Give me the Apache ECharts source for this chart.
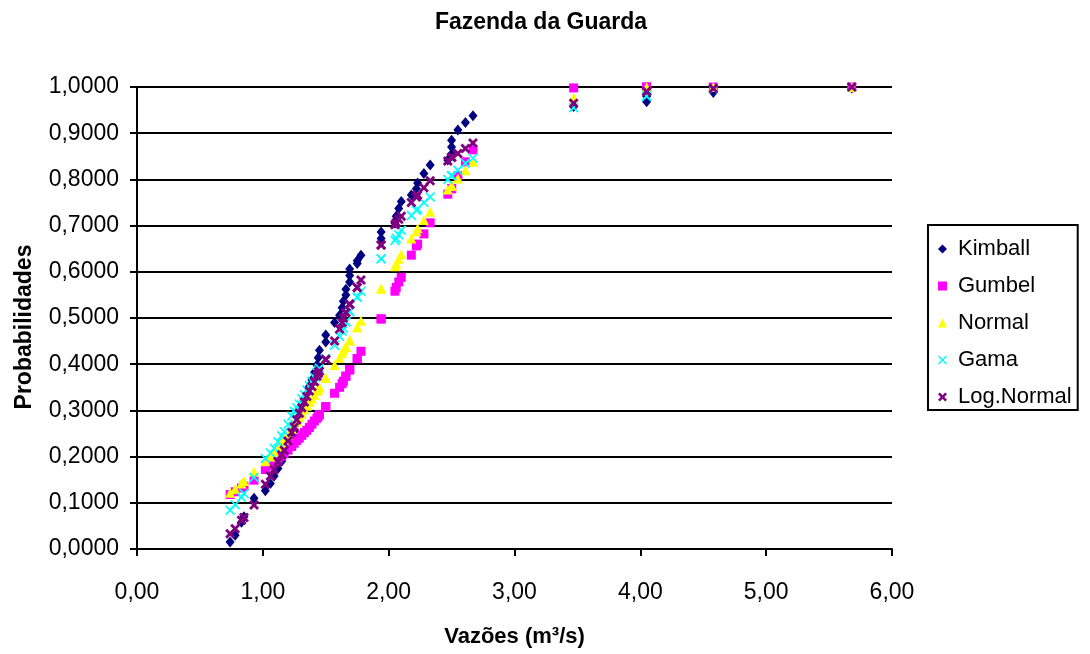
<!DOCTYPE html>
<html>
<head>
<meta charset="utf-8">
<script src="https://cdn.jsdelivr.net/npm/echarts@6.0.0/dist/echarts.min.js"></script>
<style>
html,body{margin:0;padding:0;background:#fff;}
#chart{width:1090px;height:654px;}
</style>
</head>
<body>
<div id="chart"></div>
<script>
// Observed flows (m³/s), sorted
const flows = [0.74,0.78,0.83,0.85,0.93,1.02,1.06,1.09,1.12,1.15,1.17,1.20,1.23,1.25,1.27,1.29,1.31,1.33,1.35,1.37,1.39,1.41,1.43,1.44,1.45,1.50,1.50,1.57,1.61,1.63,1.64,1.66,1.66,1.69,1.69,1.69,1.75,1.75,1.78,1.94,1.94,2.05,2.06,2.08,2.10,2.18,2.22,2.23,2.28,2.33,2.47,2.50,2.50,2.50,2.55,2.61,2.67,3.47,4.05,4.05,4.58,5.68];

const kimball = [0.015,0.030,0.058,0.070,0.110,0.126,0.142,0.158,0.174,0.190,0.206,0.222,0.240,0.256,0.272,0.288,0.304,0.320,0.336,0.352,0.366,0.382,0.398,0.414,0.430,0.448,0.463,0.490,0.506,0.522,0.536,0.550,0.562,0.578,0.592,0.606,0.618,0.624,0.636,0.672,0.686,0.705,0.720,0.737,0.752,0.766,0.780,0.792,0.813,0.831,0.842,0.855,0.870,0.885,0.907,0.923,0.938,0.958,0.968,0.980,0.988,0.998];

const gumbel = [0.118,0.124,0.132,0.136,0.149,0.172,0.180,0.188,0.195,0.201,0.206,0.214,0.222,0.229,0.235,0.240,0.246,0.252,0.257,0.263,0.270,0.277,0.283,0.287,0.291,0.308,0.308,0.337,0.350,0.358,0.363,0.374,0.374,0.388,0.388,0.388,0.412,0.412,0.428,0.498,0.498,0.558,0.566,0.578,0.588,0.636,0.656,0.660,0.682,0.706,0.768,0.780,0.780,0.780,0.808,0.838,0.864,0.998,1.000,1.000,1.000,1.000];

const normal = [0.122,0.130,0.142,0.147,0.167,0.190,0.200,0.210,0.220,0.230,0.237,0.248,0.260,0.268,0.276,0.285,0.293,0.302,0.310,0.318,0.326,0.334,0.342,0.346,0.350,0.370,0.370,0.398,0.414,0.424,0.430,0.438,0.438,0.452,0.452,0.452,0.480,0.480,0.494,0.564,0.564,0.612,0.618,0.628,0.638,0.672,0.688,0.694,0.712,0.730,0.778,0.786,0.786,0.786,0.802,0.820,0.838,0.977,0.999,0.999,1.000,1.000];

const gama = [0.084,0.096,0.112,0.120,0.155,0.196,0.208,0.218,0.232,0.245,0.254,0.270,0.288,0.298,0.306,0.314,0.325,0.334,0.344,0.354,0.363,0.372,0.382,0.387,0.391,0.412,0.412,0.441,0.460,0.472,0.478,0.492,0.492,0.514,0.514,0.514,0.545,0.545,0.558,0.628,0.628,0.668,0.672,0.680,0.690,0.722,0.733,0.736,0.750,0.762,0.800,0.808,0.808,0.808,0.820,0.835,0.846,0.955,0.980,0.980,0.995,1.000];

const logNormal = [0.033,0.044,0.062,0.068,0.095,0.140,0.158,0.172,0.189,0.204,0.214,0.234,0.252,0.264,0.280,0.294,0.306,0.318,0.330,0.342,0.352,0.362,0.374,0.380,0.385,0.410,0.410,0.450,0.476,0.490,0.500,0.512,0.512,0.530,0.530,0.530,0.566,0.566,0.582,0.658,0.658,0.702,0.706,0.714,0.720,0.750,0.762,0.766,0.782,0.797,0.840,0.848,0.848,0.848,0.856,0.867,0.879,0.965,0.990,0.990,0.997,1.000];

const seriesNames = ['Kimball','Gumbel','Normal','Gama','Log.Normal'];
const seriesValues = [kimball, gumbel, normal, gama, logNormal];
const seriesColors = ['#000080','#FF00FF','#FFFF00','#00FFFF','#800080'];

const crossPath = 'path://M0,1.2 L1.2,0 L5,3.8 L8.8,0 L10,1.2 L6.2,5 L10,8.8 L8.8,10 L5,6.2 L1.2,10 L0,8.8 L3.8,5 Z';
const boldCrossPath = 'path://M0,2 L2,0 L5,3 L8,0 L10,2 L7,5 L10,8 L8,10 L5,7 L2,10 L0,8 L3,5 Z';
const seriesSymbols = ['diamond','rect','triangle',crossPath,boldCrossPath];
const seriesSizes = [[9,11],9,[10,10],10,10];

const FONT = '"Liberation Sans", Arial, sans-serif';

const chart = echarts.init(document.getElementById('chart'), null, {renderer:'canvas'});

const series = seriesNames.map((name, k) => ({
  name: name,
  type: 'scatter',
  symbol: seriesSymbols[k],
  symbolSize: seriesSizes[k],
  itemStyle: { color: seriesColors[k], opacity: 1 },
  emphasis: { disabled: true },
  clip: false,
  data: flows.map((x, i) => [x, seriesValues[k][i]])
}));

chart.setOption({
  animation: false,
  backgroundColor: '#fff',
  title: {
    text: 'Fazenda da Guarda',
    left: 536,
    textAlign: 'center',
    top: 6,
    textStyle: { fontFamily: FONT, fontWeight: 'bold', fontSize: 23, color: '#000' }
  },
  grid: { left: 137, top: 87, width: 755, height: 462, containLabel: false },
  legend: {
    orient: 'vertical',
    left: 928,
    top: 225,
    padding: [13, 6, 2, 10],
    itemGap: 15,
    itemWidth: 9,
    itemHeight: 9,
    borderColor: '#000',
    borderWidth: 2,
    data: seriesNames.map((n, k) => ({ name: n, icon: seriesSymbols[k] })),
    textStyle: { fontFamily: FONT, fontSize: 22, color: '#000', padding: [0,0,0,6] }
  },
  xAxis: {
    type: 'value',
    min: 0, max: 6, interval: 1,
    name: 'Vazões (m³/s)',
    nameLocation: 'middle',
    nameGap: 77,
    nameTextStyle: { fontFamily: FONT, fontWeight: 'bold', fontSize: 22, color: '#000' },
    axisLine: { show: true, onZero: false, lineStyle: { color: '#000', width: 2 } },
    axisTick: { show: true, length: 7, lineStyle: { color: '#000', width: 2 } },
    axisLabel: { fontFamily: FONT, fontSize: 23, color: '#000', margin: 32,
      formatter: v => v.toFixed(2).replace('.', ',') },
    splitLine: { show: false }
  },
  yAxis: {
    type: 'value',
    min: 0, max: 1, interval: 0.1,
    name: 'Probabilidades',
    nameLocation: 'middle',
    nameGap: 101,
    nameRotate: 90,
    nameTextStyle: { fontFamily: FONT, fontWeight: 'bold', fontSize: 23, color: '#000', padding: [0, 18, 0, 0] },
    axisLine: { show: true, lineStyle: { color: '#000', width: 2 } },
    axisTick: { show: true, length: 7, lineStyle: { color: '#000', width: 2 } },
    axisLabel: { fontFamily: FONT, fontSize: 23, color: '#000', margin: 18,
      formatter: v => v.toFixed(4).replace('.', ',') },
    splitLine: { show: true, lineStyle: { color: '#000', width: 2 } }
  },
  series: series
});
</script>
</body>
</html>
